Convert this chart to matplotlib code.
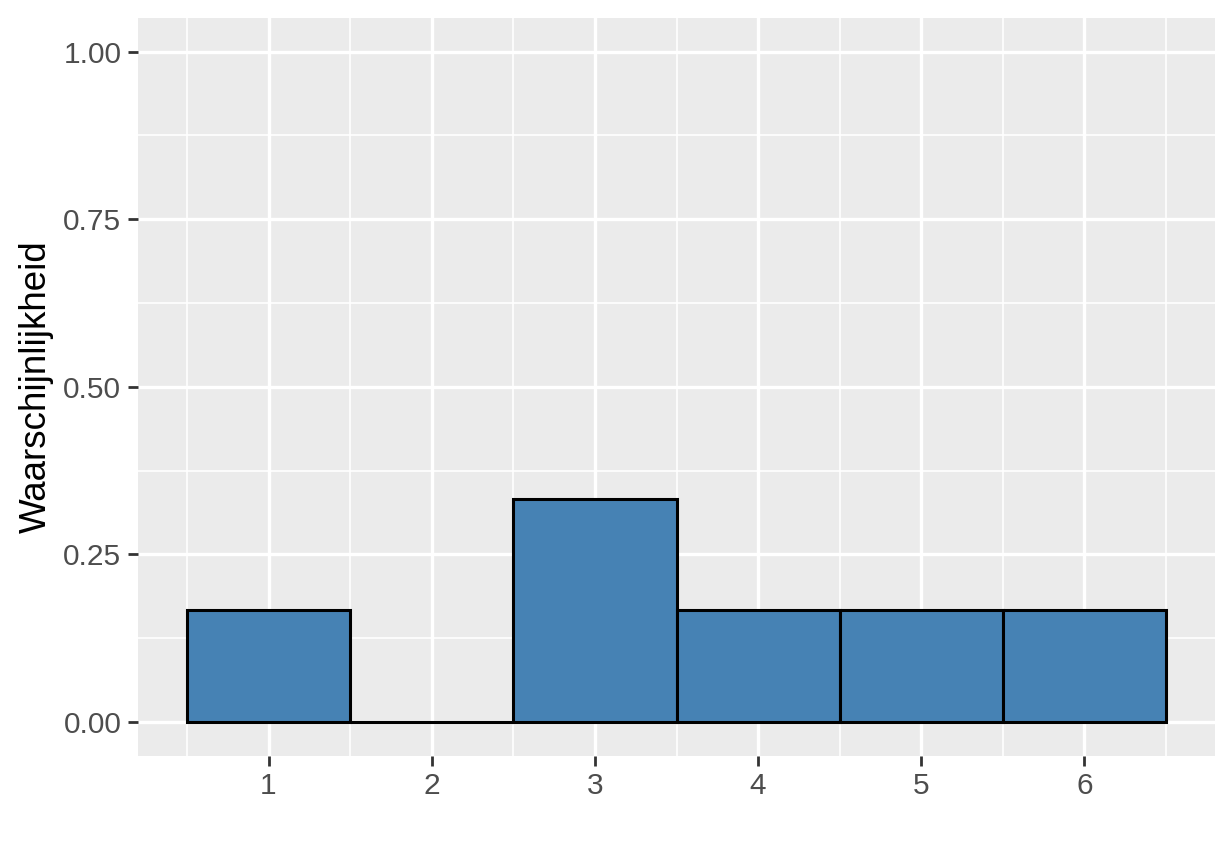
import matplotlib
matplotlib.use("Agg")
import matplotlib.pyplot as plt
import numpy as np

# Data
categories = [1, 2, 3, 4, 5, 6]
probabilities = [1/6, 0.0, 1/3, 1/6, 1/6, 1/6]
y_ticks = [0.0, 0.25, 0.50, 0.75, 1.00]
y_tick_labels = ["0.00", "0.25", "0.50", "0.75", "1.00"]
y_label = "Waarschijnlijkheid"

plt.rcParams['font.family'] = ['Liberation Sans', 'DejaVu Sans']

fig = plt.figure(figsize=(12.32, 8.64), dpi=100)
ax = fig.add_axes([138/1232, (864-755.6)/864, (1215-138)/1232, (755.6-18)/864])
ax.set_facecolor('#EBEBEB')

ax.bar(categories, probabilities, width=1.0, color='#4682B4',
       edgecolor='black', linewidth=2.2, zorder=3)

ax.set_xlim(0.2, 6.8)
ax.set_ylim(-0.05, 1.05)
ax.set_xticks(categories)
ax.set_xticklabels([str(c) for c in categories])
ax.set_yticks(y_ticks)
ax.set_yticklabels(y_tick_labels)
ax.set_xticks([c - 0.5 for c in categories] + [6.5], minor=True)
ax.set_yticks([0.125, 0.375, 0.625, 0.875], minor=True)

ax.grid(which='major', color='white', linewidth=2.4, zorder=0)
ax.grid(which='minor', color='white', linewidth=1.2, zorder=0)
ax.set_axisbelow(True)

for s in ax.spines.values():
    s.set_visible(False)

ax.tick_params(axis='both', which='major', length=7, width=2, color='#333333',
               labelsize=21.5, labelcolor='#4D4D4D', pad=5)
ax.tick_params(axis='both', which='minor', length=0)

ax.set_ylabel(y_label, fontsize=26.5, color='black', labelpad=7)

fig.savefig('out.png', dpi=100, facecolor='white')
